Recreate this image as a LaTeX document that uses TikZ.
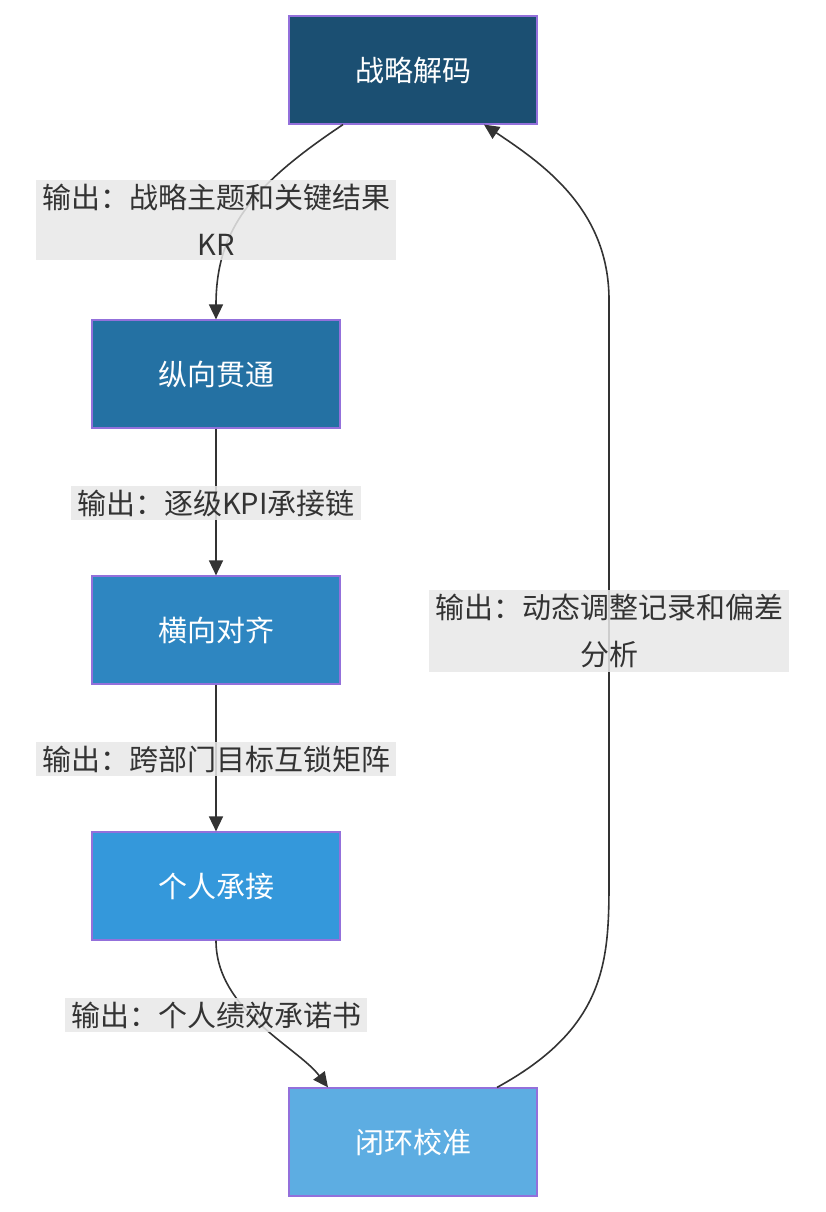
\documentclass[tikz,border=0pt]{standalone}
\usepackage{fontspec}
\newfontfamily\cjk{Noto Sans CJK SC}
\usetikzlibrary{arrows.meta}
\definecolor{c1}{HTML}{1B4F72}
\definecolor{c2}{HTML}{2471A3}
\definecolor{c3}{HTML}{2E86C1}
\definecolor{c4}{HTML}{3498DB}
\definecolor{c5}{HTML}{5DADE2}
\definecolor{bd}{HTML}{9370DB}
\definecolor{tx}{HTML}{333333}
\definecolor{lb}{HTML}{E8E8E8}
\begin{document}
\begin{tikzpicture}[x=1pt,y=-1pt,
  box/.style={draw=bd,line width=1.2pt,minimum width=248pt,minimum height=108pt,text=white,font=\cjk\fontsize{29}{36}\selectfont,inner sep=0pt},
  lab/.style={fill=lb,fill opacity=0.85,text opacity=1,text=tx,font=\cjk\fontsize{29}{47}\selectfont,align=center,inner xsep=6pt,inner ysep=4pt},
  arr/.style={draw=tx,line width=1.6pt,-{Triangle[length=15pt,width=14pt]}}]
\useasboundingbox (0,0) rectangle (826,1212);
\node[box,fill=c1] (a) at (413,70) {战略解码};
\node[box,fill=c2] (b) at (216,374) {纵向贯通};
\node[box,fill=c3] (c) at (216,630) {横向对齐};
\node[box,fill=c4] (d) at (216,886) {个人承接};
\node[box,fill=c5] (e) at (413,1142) {闭环校准};
\draw[arr] ([xshift=-70pt]a.south) .. controls +(-90,60) and +(0,-90) .. (b.north);
\draw[arr] (b) -- (c);
\draw[arr] (c) -- (d);
\draw[arr] (d.south) .. controls +(0,70) and +(-30,-40) .. ([xshift=-85pt]e.north);
\draw[arr] ([xshift=84pt]e.north) .. controls +(110,-60) and +(0,80) .. (609,880) -- (609,300) .. controls +(0,-90) and +(60,40) .. ([xshift=71pt]a.south);
\node[lab] (l1) at (216,220) {输出：战略主题和关键结果\\KR};
\node[lab] (l2) at (216,503) {输出：逐级KPI承接链};
\node[lab] (l3) at (216,759) {输出：跨部门目标互锁矩阵};
\node[lab] (l4) at (216,1015) {输出：个人绩效承诺书};
\node[lab] (l5) at (609,631) {输出：动态调整记录和偏差\\分析};
\end{tikzpicture}
\end{document}
